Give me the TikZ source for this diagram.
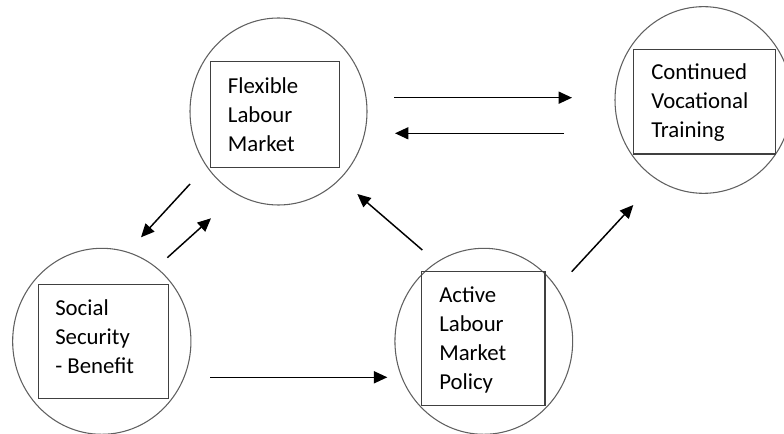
\documentclass[tikz,border=0pt]{standalone}
\usepackage{fontspec}
\setmainfont{Carlito}
\usetikzlibrary{shapes.geometric,arrows.meta}
\definecolor{ringgray}{HTML}{606060}
\definecolor{boxgray}{HTML}{404040}
\tikzset{
  ring/.style={draw=ringgray, line width=0.8pt, ellipse, inner sep=0pt},
  panel/.style={draw=boxgray, line width=0.8pt, rectangle, inner sep=0pt},
  label/.style={anchor=base west, inner sep=0pt, align=left,
    font=\fontsize{17.1pt}{21.75pt}\selectfont},
  flow/.style={line width=1.1pt, -{Triangle[length=10pt,width=9pt]}},
}
\begin{document}
\begin{tikzpicture}[x=0.75pt,y=-0.75pt]
  \useasboundingbox (0,0) rectangle (784,434);
  \clip (0,0) rectangle (784,434);

  % outer rings
  \node[ring, minimum width=132.75pt, minimum height=140.25pt] (flexR) at (278.5,111.5) {};
  \node[ring, minimum width=132.75pt, minimum height=140pt] (contR) at (703.5,100) {};
  \node[ring, minimum width=133.7pt, minimum height=139.5pt] (socR) at (101.8,341.3) {};
  \node[ring, minimum width=133.3pt, minimum height=139.5pt] (actR) at (483.8,341.3) {};

  % inner panels
  \node[panel, minimum width=96.45pt, minimum height=79.2pt] (flexB) at (275,114.5) {};
  \node[panel, minimum width=106.3pt, minimum height=78.5pt] (contB) at (704.2,101.7) {};
  \node[panel, minimum width=97.5pt, minimum height=85.5pt] (socB) at (103.3,341.3) {};
  \node[panel, minimum width=92.5pt, minimum height=100.7pt] (actB) at (483.3,338.8) {};

  % labels (anchored at the baseline of the last line)
  \node[label] (flexT) at (227.7,151.3) {Flexible\\Labour\\Market};
  \node[label] (contT) at (651,138) {Continued\\Vocational\\Training};
  \node[label] (socT) at (55,373) {Social\\Security\\- Benefit};
  \node[label] (actT) at (439,389.3) {Active\\Labour\\Market\\Policy};

  % arrow end points
  \coordinate (a1s) at (394,97.7);   \coordinate (a1e) at (572,97.7);
  \coordinate (a2s) at (564,133.3);  \coordinate (a2e) at (395,133.3);
  \coordinate (a3s) at (190,184);    \coordinate (a3e) at (141,237.3);
  \coordinate (a4s) at (167.3,257.7);\coordinate (a4e) at (211,218.3);
  \coordinate (a5s) at (422.3,250);  \coordinate (a5e) at (357.3,194);
  \coordinate (a6s) at (571.7,271.7);\coordinate (a6e) at (633.3,205);
  \coordinate (a7s) at (210,377.3);  \coordinate (a7e) at (387.3,377.3);

  % arrows
  \draw[flow] (a1s) -- (a1e);
  \draw[flow] (a2s) -- (a2e);
  \draw[flow] (a3s) -- (a3e);
  \draw[flow] (a4s) -- (a4e);
  \draw[flow] (a5s) -- (a5e);
  \draw[flow] (a6s) -- (a6e);
  \draw[flow] (a7s) -- (a7e);
\end{tikzpicture}
\end{document}
